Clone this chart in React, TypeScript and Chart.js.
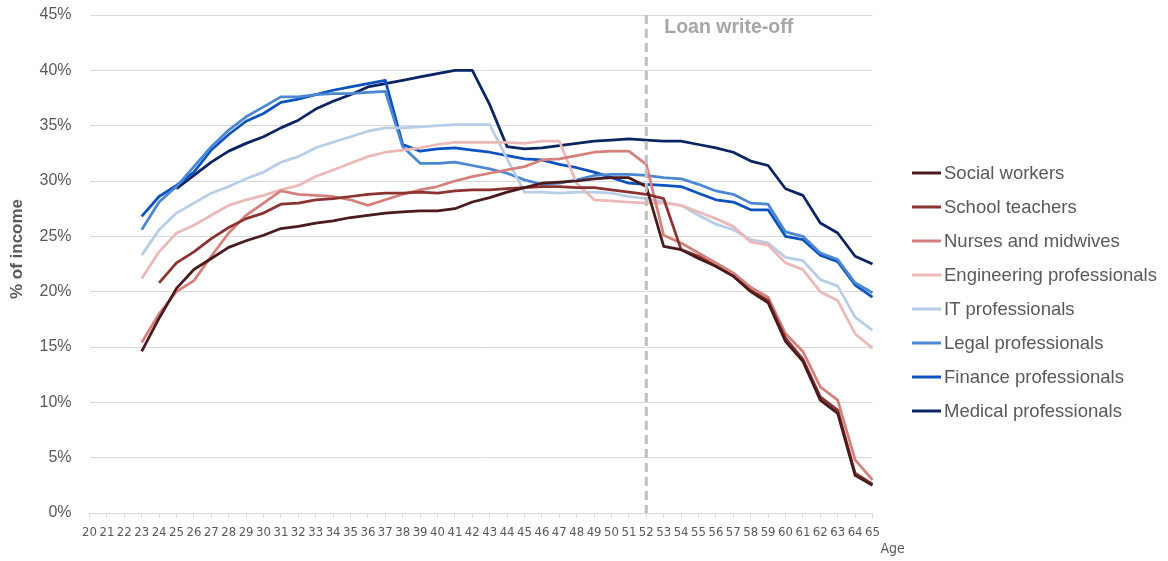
import React, { useEffect, useRef } from "react";
import { Chart, registerables } from "chart.js";

Chart.register(...registerables);

const ages = [20, 21, 22, 23, 24, 25, 26, 27, 28, 29, 30, 31, 32, 33, 34, 35, 36, 37, 38, 39, 40, 41, 42, 43, 44, 45, 46, 47, 48, 49, 50, 51, 52, 53, 54, 55, 56, 57, 58, 59, 60, 61, 62, 63, 64, 65];

const socialWorkers = [null, null, null,
  14.6, 17.6, 20.3, 22.0, 23.0, 24.0, 24.6, 25.1, 25.7, 25.9,
  26.2, 26.4, 26.7, 26.9, 27.1, 27.2, 27.3, 27.3, 27.5, 28.1,
  28.5, 29.0, 29.4, 29.8, 29.9, 30.0, 30.2, 30.3, 30.3, 29.5,
  24.1, 23.8, 23.0, 22.3, 21.4, 20.0, 19.0, 15.5, 13.7, 10.2,
  9.0, 3.4, 2.5];

const schoolTeachers = [null, null, null, null,
  20.8, 22.6, 23.6, 24.8, 25.8, 26.6, 27.1, 27.9, 28.0,
  28.3, 28.4, 28.6, 28.8, 28.9, 28.9, 29.0, 28.9, 29.1, 29.2,
  29.2, 29.3, 29.4, 29.5, 29.5, 29.4, 29.4, 29.2, 29.0, 28.8,
  28.4, 23.8, 23.2, 22.3, 21.4, 20.1, 19.2, 15.8, 13.9, 10.5,
  9.3, 3.6, 2.6];

const nurses = [null, null, null,
  15.4, 18.0, 20.0, 21.0, 23.2, 25.3, 26.9, 28.0, 29.1, 28.8,
  28.7, 28.6, 28.3, 27.8, 28.3, 28.8, 29.2, 29.5, 30.0, 30.4,
  30.7, 31.0, 31.3, 31.9, 32.0, 32.3, 32.6, 32.7, 32.7, 31.5,
  25.1, 24.4, 23.5, 22.6, 21.7, 20.4, 19.5, 16.2, 14.6, 11.4,
  10.2, 4.8, 3.0];

const engineering = [null, null, null,
  21.2, 23.6, 25.3, 26.0, 26.9, 27.8, 28.3, 28.7, 29.2, 29.6,
  30.4, 31.0, 31.6, 32.2, 32.6, 32.8, 33.0, 33.3, 33.5, 33.5,
  33.5, 33.5, 33.4, 33.6, 33.6, 29.8, 28.3, 28.2, 28.1, 28.0,
  28.0, 27.8, 27.2, 26.6, 25.9, 24.5, 24.2, 22.6, 22.0, 20.0,
  19.2, 16.2, 14.9];

const itProfessionals = [null, null, null,
  23.3, 25.6, 27.1, 28.0, 28.9, 29.5, 30.2, 30.8, 31.7, 32.2,
  33.0, 33.5, 34.0, 34.5, 34.8, 34.8, 34.9, 35.0, 35.1, 35.1,
  35.1, 32.0, 29.0, 29.0, 28.9, 29.0, 29.0, 28.9, 28.6, 28.4,
  28.1, 27.8, 26.9, 26.1, 25.6, 24.7, 24.4, 23.1, 22.8, 21.1,
  20.5, 17.7, 16.5];

const legal = [null, null, null,
  25.6, 28.1, 29.5, 31.3, 33.1, 34.6, 35.8, 36.7, 37.6, 37.6,
  37.8, 37.9, 37.9, 38.0, 38.1, 33.1, 31.6, 31.6, 31.7, 31.4,
  31.1, 30.7, 30.1, 29.7, 29.8, 30.1, 30.5, 30.6, 30.6, 30.5,
  30.3, 30.2, 29.7, 29.1, 28.8, 28.0, 27.9, 25.4, 25.0, 23.5,
  22.9, 20.8, 19.9];

const finance = [null, null, null,
  26.8, 28.6, 29.6, 30.8, 32.8, 34.2, 35.4, 36.1, 37.1, 37.4,
  37.8, 38.2, 38.5, 38.8, 39.1, 33.3, 32.7, 32.9, 33.0, 32.8,
  32.6, 32.3, 32.0, 31.9, 31.5, 31.2, 30.8, 30.3, 29.8, 29.7,
  29.6, 29.5, 28.9, 28.3, 28.1, 27.4, 27.4, 25.0, 24.7, 23.3,
  22.7, 20.6, 19.5];

const medical = [null, null, null, null, null,
  29.3, 30.5, 31.7, 32.7, 33.4, 34.0, 34.8, 35.5,
  36.5, 37.2, 37.8, 38.5, 38.8, 39.1, 39.4, 39.7, 40.0, 40.0,
  36.9, 33.1, 32.9, 33.0, 33.2, 33.4, 33.6, 33.7, 33.8, 33.7,
  33.6, 33.6, 33.3, 33.0, 32.6, 31.8, 31.4, 29.3, 28.7, 26.2,
  25.3, 23.2, 22.5];

const seriesNames = [
  "Social workers",
  "School teachers",
  "Nurses and midwives",
  "Engineering professionals",
  "IT professionals",
  "Legal professionals",
  "Finance professionals",
  "Medical professionals",
];
const seriesData = [socialWorkers, schoolTeachers, nurses, engineering, itProfessionals, legal, finance, medical];
const seriesColors = ["#4a1a1c", "#8c3331", "#d6807c", "#ebb9b7", "#b8cde7", "#4b87d3", "#0c52c0", "#0b2463"];

const writeOffAge = 52;
const writeOffLabel = "Loan write-off";
const yTitle = "% of income";
const xTitle = "Age";

const FONT = "'Liberation Sans', Arial, sans-serif";
const NARROW = "'Liberation Sans Narrow', 'DejaVu Sans Condensed', sans-serif";

const overlayPlugin = {
  id: "overlay",
  afterDatasetsDraw(chart: any) {
    const ctx = chart.ctx;
    const xs = chart.scales.x;
    const area = chart.chartArea;
    const x = xs.getPixelForValue(ages.indexOf(writeOffAge));
    ctx.save();
    ctx.strokeStyle = "#bfbfbf";
    ctx.lineWidth = 3;
    ctx.setLineDash([9, 5]);
    ctx.beginPath();
    ctx.moveTo(x, area.top);
    ctx.lineTo(x, area.bottom);
    ctx.stroke();
    ctx.restore();
  },
  afterDraw(chart: any) {
    const ctx = chart.ctx;
    const xs = chart.scales.x;
    const area = chart.chartArea;
    const x = xs.getPixelForValue(ages.indexOf(writeOffAge));
    ctx.save();
    // write-off label
    ctx.fillStyle = "#a6a6a6";
    ctx.font = `bold 19.5px ${FONT}`;
    ctx.textBaseline = "middle";
    ctx.textAlign = "left";
    ctx.fillText(writeOffLabel, x + 18, area.top + 13);
    // y title
    ctx.save();
    ctx.translate(17.5, 249);
    ctx.rotate(-Math.PI / 2);
    ctx.fillStyle = "#595959";
    ctx.font = `bold 17px ${FONT}`;
    ctx.textAlign = "center";
    ctx.textBaseline = "middle";
    ctx.fillText(yTitle, 0, 0);
    ctx.restore();
    // x title
    ctx.fillStyle = "#595959";
    ctx.font = `14px ${NARROW}`;
    ctx.textAlign = "left";
    ctx.textBaseline = "middle";
    ctx.fillText(xTitle, area.right + 8, 549);
    // legend
    ctx.font = `18.5px ${FONT}`;
    ctx.textBaseline = "middle";
    seriesNames.forEach((name, i) => {
      const y = 173 + i * 34;
      ctx.strokeStyle = seriesColors[i];
      ctx.lineWidth = 3;
      ctx.beginPath();
      ctx.moveTo(912, y);
      ctx.lineTo(941, y);
      ctx.stroke();
      ctx.fillStyle = "#595959";
      ctx.fillText(name, 944, y + 1);
    });
    ctx.restore();
  },
};

export default function App() {
  const ref = useRef<HTMLCanvasElement | null>(null);
  useEffect(() => {
    if (!ref.current) return;
    const chart = new Chart(ref.current, {
      type: "line",
      data: {
        labels: ages.map(String),
        datasets: seriesNames.map((name, i) => ({
          label: name,
          data: seriesData[i],
          borderColor: seriesColors[i],
          backgroundColor: seriesColors[i],
          borderWidth: 2.75,
          pointRadius: 0,
          tension: 0,
          spanGaps: false,
          borderJoinStyle: "round" as const,
        })),
      },
      options: {
        responsive: false,
        animation: false,
        devicePixelRatio: 1,
        layout: { padding: { left: 0, right: 295.5, top: 15, bottom: 0 } },
        plugins: { legend: { display: false }, tooltip: { enabled: false } },
        scales: {
          x: {
            type: "category",
            offset: false,
            afterFit: (s: any) => { s.height = 48; },
            grid: { display: true, drawOnChartArea: false, drawTicks: true, tickLength: 5, color: "#d9d9d9" },
            border: { display: true, color: "#d9d9d9" },
            ticks: { autoSkip: false, maxRotation: 0, minRotation: 0, padding: 7, color: "#595959", font: { family: NARROW, size: 13 } },
          },
          y: {
            min: 0,
            max: 45,
            afterFit: (s: any) => { s.width = 89.5; s.paddingTop = 0; s.paddingBottom = 0; },
            grid: { color: "#d9d9d9", drawTicks: false, lineWidth: 1 },
            border: { display: false },
            ticks: { stepSize: 5, padding: 18, color: "#595959", font: { family: FONT, size: 16 }, callback: (v: any) => `${v}%` },
          },
        },
      },
      plugins: [overlayPlugin],
    });
    return () => chart.destroy();
  }, []);
  return (
    <div style={{ position: "fixed", left: 0, top: 0, width: 1168, height: 561, background: "#fff" }}>
      <canvas ref={ref} width={1168} height={561} style={{ width: 1168, height: 561, display: "block" }} />
    </div>
  );
}
